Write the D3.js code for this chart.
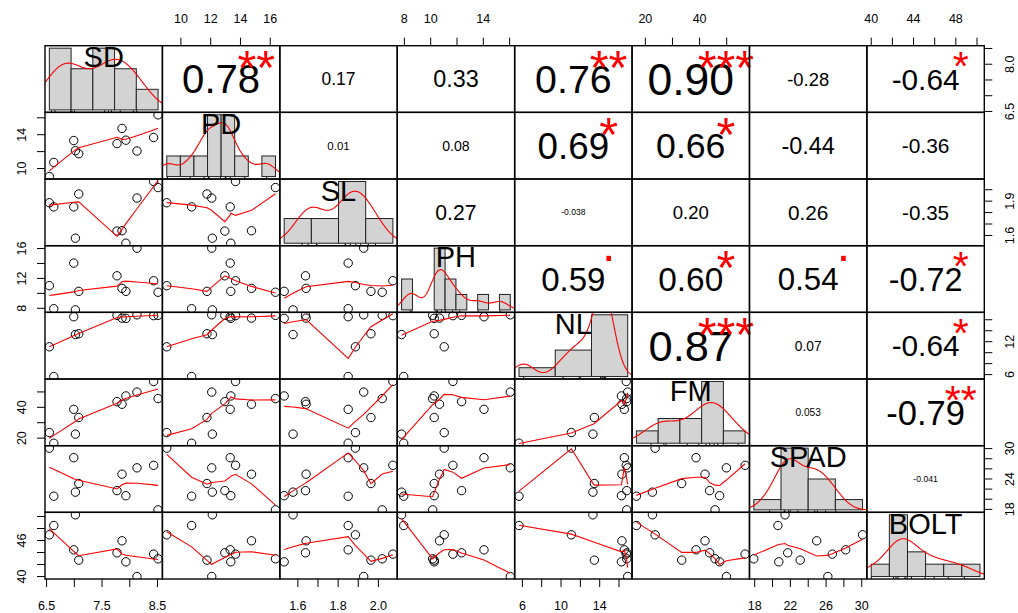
<!DOCTYPE html>
<html>
<head>
<meta charset="utf-8">
<script src="https://cdn.jsdelivr.net/npm/d3@7"></script>
<style>
  body { margin: 0; background: #fff; }
  svg { display: block; font-family: "Liberation Sans", Arial, sans-serif; }
</style>
</head>
<body>
<script>
// variable names, in panel order
var varNames = ["SD", "PD", "SL", "PH", "NL", "FM", "SPAD", "BOLT"];

var SD   = [6.55, 6.63, 6.99, 7.02, 7.08, 7.77, 7.86, 7.93, 8.13, 8.43, 8.51];
var PD   = [9.05, 10.72, 13.31, 12.11, 11.75, 12.95, 14.74, 13.35, 12.07, 13.67, 16.35];
var SL   = [1.886, 1.850, 1.850, 1.576, 1.963, 1.638, 1.641, 1.532, 1.927, 2.072, 2.019];
var PH   = [11.03, 7.95, 14.05, 7.79, 10.27, 12.35, 10.67, 10.27, 16.05, 11.69, 10.15];
var NL   = [11.07, 5.65, 16.55, 13.3, 13.45, 16.8, 16.3, 16.25, 16.9, 16.75, 16.8];
var FM   = [23.6, 16.7, 38.7, 22.6, 33.4, 43.7, 42.0, 47.4, 49.9, 56.8, 45.7];
var SPAD = [30.09, 20.6, 28.2, 21.4, 23.1, 21.7, 24.95, 20.7, 26.2, 26.7, 17.9];
var BOLT = [46.95, 48.5, 44.45, 50.28, 42.73, 43.95, 45.95, 42.45, 40.0, 43.73, 42.95];

// correlations printed in the upper panels, row by row
var corText = ["0.78", "0.17", "0.33", "0.76", "0.90", "-0.28", "-0.64",
               "0.01", "0.08", "0.69", "0.66", "-0.44", "-0.36",
               "0.27", "-0.038", "0.20", "0.26", "-0.35",
               "0.59", "0.60", "0.54", "-0.72",
               "0.87", "0.07", "-0.64",
               "0.053", "-0.79",
               "-0.041"];
var corSignif = ["**", "", "", "**", "***", "", "*",
                 "", "", "*", "*", "", "",
                 "", "", "", "", "",
                 ".", "*", ".", "*",
                 "***", "", "*",
                 "", "**",
                 ""];

// axis ticks for each variable, and the labels shown on each side
var tickValues = [[6.5, 7, 7.5, 8, 8.5], [10, 12, 14, 16], [1.6, 1.7, 1.8, 1.9, 2.0], [8, 10, 12, 14, 16],
                  [6, 8, 10, 12, 14, 16], [20, 30, 40, 50], [18, 20, 22, 24, 26, 28, 30], [40, 42, 44, 46, 48, 50]];
var topLabels    = [null, ["10", "12", "14", "16"], null, ["8", "10", "14"], null, ["20", "40"], null, ["40", "44", "48"]];
var bottomLabels = [["6.5", "7.5", "8.5"], null, ["1.6", "1.8", "2.0"], null, ["6", "10", "14"], null, ["18", "22", "26", "30"], null];
var leftLabels   = [null, ["10", "14"], null, ["8", "12", "16"], null, ["20", "40"], null, ["40", "46"]];
var rightLabels  = [["6.5", "8.0"], null, ["1.6", "1.9"], null, ["6", "12"], null, ["18", "24", "30"], null];

var cols = [SD, PD, SL, PH, NL, FM, SPAD, BOLT];

// The svg
var width = 1018;
var height = 613;
var gridLeft = 45, gridTop = 45.7, gridRight = 984.3, gridBottom = 579;
var nv = varNames.length;
var cw = (gridRight - gridLeft) / nv;
var ch = (gridBottom - gridTop) / nv;
var svg = d3.select("body").append("svg")
    .attr("width", width)
    .attr("height", height);
var defs = svg.append("defs");

// R style axis ranges: data range plus 4% each side
function padDomain(lo, hi) {
    var r = hi - lo;
    return [lo - 0.04 * r, hi + 0.04 * r];
}
var xScale = cols.map(function(v, j) {
    var e = d3.extent(v);
    return d3.scaleLinear().domain(padDomain(e[0], e[1])).range([gridLeft + j * cw, gridLeft + (j + 1) * cw]);
});
var yScale = cols.map(function(v, i) {
    var e = d3.extent(v);
    return d3.scaleLinear().domain(padDomain(e[0], e[1])).range([gridTop + (i + 1) * ch, gridTop + i * ch]);
});

// one clip rect per cell
for (var i = 0; i < nv; i++) {
    for (var j = 0; j < nv; j++) {
        defs.append("clipPath").attr("id", "clip" + i + "_" + j)
            .append("rect")
            .attr("x", gridLeft + j * cw).attr("y", gridTop + i * ch)
            .attr("width", cw).attr("height", ch);
    }
}

// port of R's clowess (lowess with f = 2/3, iter = 3)
function lowess(xIn, yIn, f, nsteps) {
    var n = xIn.length;
    var order = d3.range(n).sort(function(a, b) { return xIn[a] - xIn[b]; });
    var x = [0].concat(order.map(function(k) { return xIn[k]; }));
    var y = [0].concat(order.map(function(k) { return yIn[k]; }));
    var ys = new Array(n + 1).fill(0), rw = new Array(n + 1).fill(1);
    var res = new Array(n + 1).fill(0), w = new Array(n + 1).fill(0);
    var delta = 0.01 * (x[n] - x[1]);
    var ns = Math.max(2, Math.min(n, Math.floor(f * n + 1e-7)));

    function lowest(xs, nleft, nright, userw) {
        var range = x[n] - x[1];
        var h = Math.max(xs - x[nleft], x[nright] - xs);
        var h9 = 0.999 * h, h1 = 0.001 * h;
        var a = 0, j = nleft;
        while (j <= n) {
            w[j] = 0;
            var r = Math.abs(x[j] - xs);
            if (r <= h9) {
                w[j] = r <= h1 ? 1 : Math.pow(1 - Math.pow(r / h, 3), 3);
                if (userw) w[j] *= rw[j];
                a += w[j];
            } else if (x[j] > xs) break;
            j++;
        }
        var nrt = j - 1;
        if (a <= 0) return null;
        for (j = nleft; j <= nrt; j++) w[j] /= a;
        if (h > 0) {
            a = 0;
            for (j = nleft; j <= nrt; j++) a += w[j] * x[j];
            var b = xs - a, c = 0;
            for (j = nleft; j <= nrt; j++) c += w[j] * (x[j] - a) * (x[j] - a);
            if (Math.sqrt(c) > 0.001 * range) {
                b /= c;
                for (j = nleft; j <= nrt; j++) w[j] *= (b * (x[j] - a) + 1);
            }
        }
        var out = 0;
        for (j = nleft; j <= nrt; j++) out += w[j] * y[j];
        return out;
    }

    var iter = 1;
    while (iter <= nsteps + 1) {
        var nleft = 1, nright = ns, last = 0, i = 1;
        for (;;) {
            if (nright < n) {
                var d1 = x[i] - x[nleft], d2 = x[nright + 1] - x[i];
                if (d1 > d2) { nleft++; nright++; continue; }
            }
            var v = lowest(x[i], nleft, nright, iter > 1);
            ys[i] = v === null ? y[i] : v;
            if (last < i - 1) {
                var denom = x[i] - x[last];
                for (var j = last + 1; j < i; j++) {
                    var alpha = (x[j] - x[last]) / denom;
                    ys[j] = alpha * ys[i] + (1 - alpha) * ys[last];
                }
            }
            last = i;
            var cut = x[last] + delta;
            for (i = last + 1; i <= n; i++) {
                if (x[i] > cut) break;
                if (x[i] === x[last]) { ys[i] = ys[last]; last = i; }
            }
            i = Math.max(last + 1, i - 1);
            if (last >= n) break;
        }
        for (i = 1; i <= n; i++) res[i] = y[i] - ys[i];
        if (iter > nsteps) break;
        var ar = [];
        for (i = 1; i <= n; i++) ar.push(Math.abs(res[i]));
        var sc = d3.sum(ar) / n;
        ar.sort(function(a, b) { return a - b; });
        var m1 = Math.floor(n / 2), cmad;
        if (n % 2 === 0) cmad = 3 * (ar[m1] + ar[n - m1 - 1]);
        else cmad = 6 * ar[m1];
        if (cmad < 1e-7 * sc) break;
        var c9 = 0.999 * cmad, c1 = 0.001 * cmad;
        for (i = 1; i <= n; i++) {
            var r = Math.abs(res[i]);
            rw[i] = r <= c1 ? 1 : (r <= c9 ? Math.pow(1 - Math.pow(r / cmad, 2), 2) : 0);
        }
        iter++;
    }
    var out = [];
    for (var k = 1; k <= n; k++) out.push([x[k], ys[k]]);
    return out;
}

// R's pretty() and Freedman-Diaconis class count, for the histogram breaks
function rPretty(lo, up, ndiv) {
    var h = 1.5, h5 = 0.5 + 1.5 * h;
    var cell = (up - lo) / ndiv;
    var base = Math.pow(10, Math.floor(Math.log10(cell)));
    var unit = base;
    if (2 * base - cell < h * (cell - unit)) {
        unit = 2 * base;
        if (5 * base - cell < h5 * (cell - unit)) {
            unit = 5 * base;
            if (10 * base - cell < h * (cell - unit)) unit = 10 * base;
        }
    }
    var ns = Math.floor(lo / unit + 1e-7), nu = Math.ceil(up / unit - 1e-7);
    while (ns * unit > lo + 1e-10 * unit) ns--;
    while (nu * unit < up - 1e-10 * unit) nu++;
    return d3.range(ns, nu + 1).map(function(k) { return +(k * unit).toFixed(10); });
}
function histBreaks(v) {
    var s = v.slice().sort(d3.ascending);
    var iqr = d3.quantile(s, 0.75) - d3.quantile(s, 0.25);
    var nclass = Math.max(1, Math.ceil((s[s.length - 1] - s[0]) / (2 * iqr * Math.pow(s.length, -1 / 3))));
    return rPretty(s[0], s[s.length - 1], nclass);
}

// gaussian density with bw.nrd0, 512 points like R's density()
function densityLine(v) {
    var s = v.slice().sort(d3.ascending);
    var lo = Math.min(d3.deviation(s), (d3.quantile(s, 0.75) - d3.quantile(s, 0.25)) / 1.34);
    var bw = 0.9 * lo * Math.pow(s.length, -0.2);
    var from = s[0] - 3 * bw, to = s[s.length - 1] + 3 * bw;
    return d3.range(512).map(function(k) {
        var xx = from + (to - from) * k / 511;
        var dens = d3.mean(s, function(xi) {
            var u = (xx - xi) / bw;
            return Math.exp(-0.5 * u * u) / (bw * Math.sqrt(2 * Math.PI));
        });
        return [xx, dens];
    });
}

// text measuring at 100px
var meas = svg.append("text").style("font-size", "100px").attr("x", -2000).attr("y", -2000);
function width100(s) {
    meas.text(s);
    return meas.node().getComputedTextLength();
}

var corIndex = 0;
for (var i = 0; i < nv; i++) {
    for (var j = 0; j < nv; j++) {
        var cx0 = gridLeft + j * cw, cy0 = gridTop + i * ch;
        var cell = svg.append("g").attr("clip-path", "url(#clip" + i + "_" + j + ")");

        if (i > j) {
            // lower panel: scatter + lowess smooth
            var xs = xScale[j], ys = yScale[i];
            var pts = cols[j].map(function(d, k) { return [d, cols[i][k]]; });
            cell.selectAll("circle")
                .data(pts)
                .join("circle")
                .attr("cx", function(d) { return xs(d[0]); })
                .attr("cy", function(d) { return ys(d[1]); })
                .attr("r", 4.2)
                .attr("fill", "none")
                .attr("stroke", "black")
                .attr("stroke-width", 1);
            var smooth = lowess(cols[j], cols[i], 2 / 3, 3);
            cell.append("path")
                .attr("d", d3.line().x(function(d) { return xs(d[0]); }).y(function(d) { return ys(d[1]); })(smooth))
                .attr("fill", "none")
                .attr("stroke", "red")
                .attr("stroke-width", 1.1);
        } else if (i === j) {
            // diagonal: histogram (probability), density, rug
            var v = cols[i];
            var br = histBreaks(v);
            var counts = br.slice(1).map(function() { return 0; });
            v.forEach(function(d) {
                for (var b = 0; b < counts.length; b++) {
                    if ((d > br[b] || (b === 0 && d >= br[0])) && d <= br[b + 1]) { counts[b]++; break; }
                }
            });
            var bins = counts.map(function(c, b) {
                return { x0: br[b], x1: br[b + 1], dens: c / (v.length * (br[b + 1] - br[b])) };
            });
            var maxD = d3.max(bins, function(d) { return d.dens; });
            var hx = d3.scaleLinear().domain(padDomain(br[0], br[br.length - 1])).range([cx0, cx0 + cw]);
            var hy = d3.scaleLinear().domain(padDomain(0, maxD)).range([cy0 + ch, cy0]);
            cell.selectAll("rect.bar")
                .data(bins.filter(function(d) { return d.dens > 0; }))
                .join("rect")
                .attr("class", "bar")
                .attr("x", function(d) { return hx(d.x0); })
                .attr("y", function(d) { return hy(d.dens); })
                .attr("width", function(d) { return hx(d.x1) - hx(d.x0); })
                .attr("height", function(d) { return hy(0) - hy(d.dens); })
                .attr("fill", "#d3d3d3")
                .attr("stroke", "#222")
                .attr("stroke-width", 1);
            cell.append("path")
                .attr("d", d3.line().x(function(d) { return hx(d[0]); }).y(function(d) { return hy(d[1]); })(densityLine(v)))
                .attr("fill", "none")
                .attr("stroke", "red")
                .attr("stroke-width", 1.1);
            cell.selectAll("line.rug")
                .data(v)
                .join("line")
                .attr("class", "rug")
                .attr("x1", function(d) { return hx(d); }).attr("x2", function(d) { return hx(d); })
                .attr("y1", cy0 + ch).attr("y2", cy0 + ch - 0.03 * ch)
                .attr("stroke", "black");
            // variable name
            svg.append("text")
                .attr("x", cx0 + cw / 2)
                .attr("y", cy0 + ch / 6 + 0.358 * 29)
                .attr("text-anchor", "middle")
                .style("font-size", "29px")
                .text(varNames[i]);
        } else {
            // upper panel: correlation, size by |r|, stars in red
            var txt = corText[corIndex], sig = corSignif[corIndex];
            corIndex++;
            var r = Math.abs(parseFloat(txt));
            var baseSize = 100 * 0.8 * cw / width100(txt);
            var fs = baseSize * (r + 0.3) / 1.3;
            svg.append("text")
                .attr("x", cx0 + cw / 2)
                .attr("y", cy0 + ch / 2 + 0.358 * fs)
                .attr("text-anchor", "middle")
                .style("font-size", fs + "px")
                .text(txt);
            if (sig) {
                var off = sig.indexOf("*") >= 0 ? 0.52 : 0.05;
                svg.append("text")
                    .attr("x", cx0 + 0.8 * cw)
                    .attr("y", cy0 + 0.2 * ch + off * baseSize)
                    .attr("text-anchor", "middle")
                    .attr("fill", "red")
                    .style("font-size", baseSize + "px")
                    .text(sig);
            }
        }
    }
}

// panel boxes
for (var i = 0; i < nv; i++) {
    for (var j = 0; j < nv; j++) {
        svg.append("rect")
            .attr("x", gridLeft + j * cw).attr("y", gridTop + i * ch)
            .attr("width", cw).attr("height", ch)
            .attr("fill", "none")
            .attr("stroke", "black")
            .attr("stroke-width", 1.4);
    }
}

// axes around the matrix
var tickLen = 8, labelSize = 12.5;
for (var k = 0; k < nv; k++) {
    var tv = tickValues[k];
    if (topLabels[k] || bottomLabels[k]) {
        var ax = xScale[k];
        var isTop = !!topLabels[k];
        var y0 = isTop ? gridTop : gridBottom;
        var dir = isTop ? -1 : 1;
        svg.append("g").selectAll("line")
            .data(tv)
            .join("line")
            .attr("x1", function(d) { return ax(d); }).attr("x2", function(d) { return ax(d); })
            .attr("y1", y0).attr("y2", y0 + dir * tickLen)
            .attr("stroke", "black");
        svg.append("g").selectAll("text")
            .data(isTop ? topLabels[k] : bottomLabels[k])
            .join("text")
            .attr("x", function(d) { return ax(+d); })
            .attr("y", isTop ? 19 + 0.358 * labelSize : 606 + 0.358 * labelSize)
            .attr("text-anchor", "middle")
            .style("font-size", labelSize + "px")
            .text(function(d) { return d; });
    }
    if (leftLabels[k] || rightLabels[k]) {
        var ay = yScale[k];
        var isLeft = !!leftLabels[k];
        var x0 = isLeft ? gridLeft : gridRight;
        var dirX = isLeft ? -1 : 1;
        var bx = (isLeft ? 21.5 : 1010) + 0.358 * labelSize;
        svg.append("g").selectAll("line")
            .data(tv)
            .join("line")
            .attr("x1", x0).attr("x2", x0 + dirX * tickLen)
            .attr("y1", function(d) { return ay(d); }).attr("y2", function(d) { return ay(d); })
            .attr("stroke", "black");
        svg.append("g").selectAll("text")
            .data(isLeft ? leftLabels[k] : rightLabels[k])
            .join("text")
            .attr("x", bx)
            .attr("y", function(d) { return ay(+d); })
            .attr("transform", function(d) { return "rotate(-90," + bx + "," + ay(+d) + ")"; })
            .attr("text-anchor", "middle")
            .style("font-size", labelSize + "px")
            .text(function(d) { return d; });
    }
}
meas.remove();
</script>
</body>
</html>
